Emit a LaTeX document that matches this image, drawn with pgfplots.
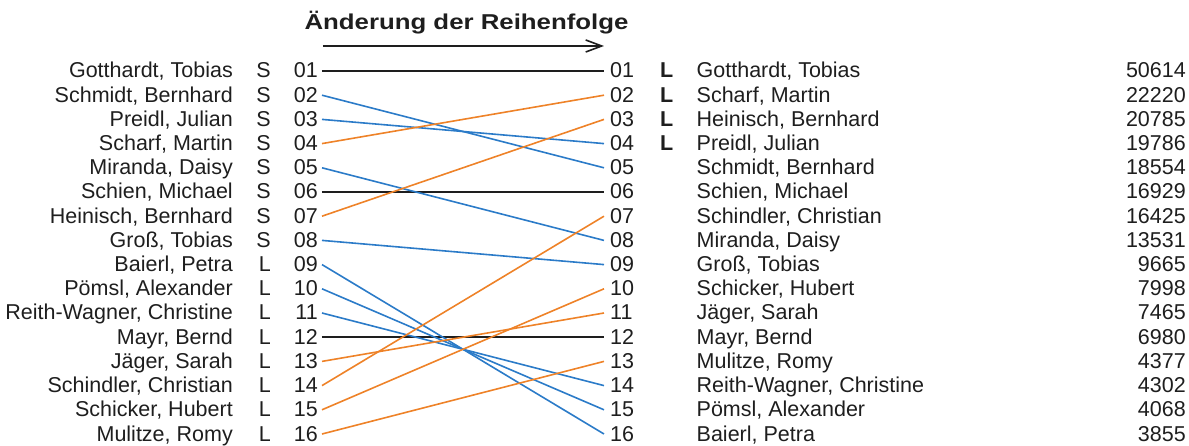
\documentclass[border=0pt]{standalone}
\usepackage{pgfplots}
\pgfplotsset{compat=1.18}
\usepackage{graphicx}
\usepackage{fontspec}
\setmainfont{Liberation Sans}
\usetikzlibrary{arrows.meta}
\definecolor{txt}{HTML}{1E1E1E}
\definecolor{down}{HTML}{2B7BC8}
\definecolor{up}{HTML}{EE8228}
\tikzset{t/.style={font=\fontsize{21.5pt}{25pt}\selectfont, text=txt, inner sep=0pt}}
% left row: rank, name, group
\newcommand{\lrow}[3]{%
  \node[t,anchor=base east] at ([xshift=-89pt,yshift=-7pt]axis cs:0,#1) {#2};
  \node[t,anchor=base east] at ([xshift=-51pt,yshift=-7pt]axis cs:0,#1) {#3};
  \node[t,anchor=base east] at ([xshift=-4pt,yshift=-7pt]axis cs:0,#1) {#1};}
% right row: rank, flag, name, points
\newcommand{\rrow}[4]{%
  \node[t,anchor=base west] at ([xshift=6pt,yshift=-7pt]axis cs:1,#1) {#1};
  \node[t,anchor=base west,font=\fontsize{21.5pt}{25pt}\selectfont\bfseries] at ([xshift=56pt,yshift=-7pt]axis cs:1,#1) {#2};
  \node[t,anchor=base west] at ([xshift=92.5pt,yshift=-7pt]axis cs:1,#1) {#3};
  \node[t,anchor=base east] at ([xshift=582pt,yshift=-7pt]axis cs:1,#1) {#4};}
\begin{document}
\begin{tikzpicture}
\begin{axis}[scale only axis, width=282pt, height=363pt,
  xmin=0, xmax=1, ymin=1, ymax=16, y dir=reverse,
  axis lines=none, ticks=none, clip=false]
% same position
\addplot[txt, line width=1.6pt] coordinates {(0,1) (1,1)};
\addplot[txt, line width=1.6pt] coordinates {(0,6) (1,6)};
\addplot[txt, line width=1.6pt] coordinates {(0,12) (1,12)};
% moved down
\addplot[down, line width=1.6pt] coordinates {(0,2) (1,5)};
\addplot[down, line width=1.6pt] coordinates {(0,3) (1,4)};
\addplot[down, line width=1.6pt] coordinates {(0,5) (1,8)};
\addplot[down, line width=1.6pt] coordinates {(0,8) (1,9)};
\addplot[down, line width=1.6pt] coordinates {(0,9) (1,16)};
\addplot[down, line width=1.6pt] coordinates {(0,10) (1,15)};
\addplot[down, line width=1.6pt] coordinates {(0,11) (1,14)};
% moved up
\addplot[up, line width=1.6pt] coordinates {(0,4) (1,2)};
\addplot[up, line width=1.6pt] coordinates {(0,7) (1,3)};
\addplot[up, line width=1.6pt] coordinates {(0,13) (1,11)};
\addplot[up, line width=1.6pt] coordinates {(0,14) (1,7)};
\addplot[up, line width=1.6pt] coordinates {(0,15) (1,10)};
\addplot[up, line width=1.6pt] coordinates {(0,16) (1,13)};

\lrow{01}{Gotthardt, Tobias}{S}
\lrow{02}{Schmidt, Bernhard}{S}
\lrow{03}{Preidl, Julian}{S}
\lrow{04}{Scharf, Martin}{S}
\lrow{05}{Miranda, Daisy}{S}
\lrow{06}{Schien, Michael}{S}
\lrow{07}{Heinisch, Bernhard}{S}
\lrow{08}{Groß, Tobias}{S}
\lrow{09}{Baierl, Petra}{L}
\lrow{10}{Pömsl, Alexander}{L}
\lrow{11}{Reith-Wagner, Christine}{L}
\lrow{12}{Mayr, Bernd}{L}
\lrow{13}{Jäger, Sarah}{L}
\lrow{14}{Schindler, Christian}{L}
\lrow{15}{Schicker, Hubert}{L}
\lrow{16}{Mulitze, Romy}{L}

\rrow{01}{L}{Gotthardt, Tobias}{50614}
\rrow{02}{L}{Scharf, Martin}{22220}
\rrow{03}{L}{Heinisch, Bernhard}{20785}
\rrow{04}{L}{Preidl, Julian}{19786}
\rrow{05}{}{Schmidt, Bernhard}{18554}
\rrow{06}{}{Schien, Michael}{16929}
\rrow{07}{}{Schindler, Christian}{16425}
\rrow{08}{}{Miranda, Daisy}{13531}
\rrow{09}{}{Groß, Tobias}{9665}
\rrow{10}{}{Schicker, Hubert}{7998}
\rrow{11}{}{Jäger, Sarah}{7465}
\rrow{12}{}{Mayr, Bernd}{6980}
\rrow{13}{}{Mulitze, Romy}{4377}
\rrow{14}{}{Reith-Wagner, Christine}{4302}
\rrow{15}{}{Pömsl, Alexander}{4068}
\rrow{16}{}{Baierl, Petra}{3855}

\node[t, anchor=base, font=\fontsize{21.5pt}{25pt}\selectfont\bfseries] at ([xshift=3.5pt,yshift=41.7pt]axis cs:0.5,1) {\scalebox{1.2}[1]{Änderung der Reihenfolge}};
\draw[txt, line width=1.8pt, -{Straight Barb[length=16pt,width=12pt,line width=1.6pt]}] ([xshift=1pt,yshift=25pt]axis cs:0,1) -- ([yshift=25pt]axis cs:1,1);

\coordinate (A) at (axis cs:0,1);
\coordinate (B) at (axis cs:0,16);
\end{axis}
\pgfresetboundingbox
\path[use as bounding box] ([xshift=-322pt,yshift=71pt]A) rectangle ([xshift=867pt,yshift=-12pt]B);
\end{tikzpicture}
\end{document}
